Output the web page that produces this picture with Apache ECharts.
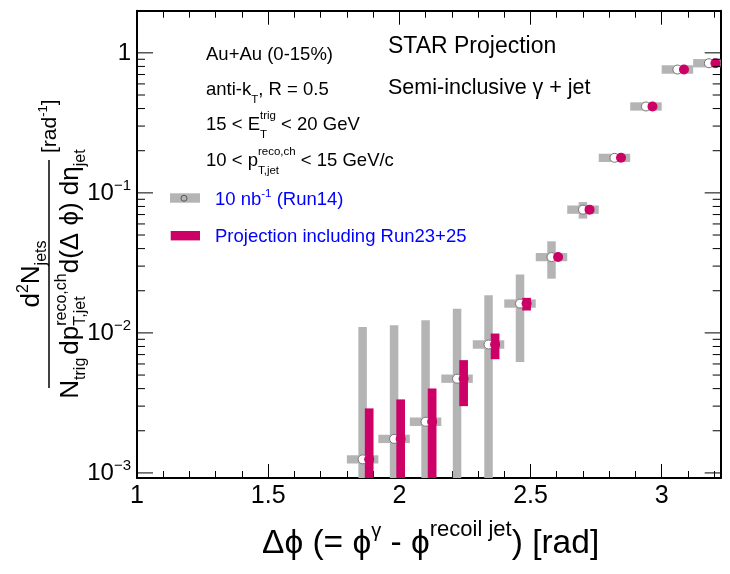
<!DOCTYPE html>
<html><head><meta charset="utf-8">
<script src="https://cdn.jsdelivr.net/npm/echarts@6/dist/echarts.min.js"></script>
<style>html,body{margin:0;padding:0;background:#fff}#c{width:730px;height:574px}</style>
</head><body><div id="c"></div>
<script>
// ---------------- data ----------------
const binCenters   = [1.86, 1.98, 2.10, 2.22, 2.34, 2.46, 2.58, 2.70, 2.82, 2.94, 3.06, 3.18];
const binHalfWidth = [0.06, 0.06, 0.06, 0.06, 0.06, 0.06, 0.06, 0.06, 0.06, 0.06, 0.06, 0.06];
const run14Values   = [0.00125, 0.00175, 0.00232, 0.00471, 0.00826, 0.0162, 0.0348, 0.0759, 0.178, 0.414, 0.760, 0.843];
const run14StatLow  = [0.0001, 0.0001, 0.0001, 0.0001, 0.0001, 0.00621, 0.0244, 0.0655, 0.171, 0.400, 0.735, 0.815];
const run14StatHigh = [0.0110, 0.01135, 0.0123, 0.0149, 0.0186, 0.0261, 0.0451, 0.0860, 0.186, 0.430, 0.790, 0.875];
const run14SysLow   = [0.001167, 0.001634, 0.002166, 0.004398, 0.007712, 0.01513, 0.03249, 0.07087, 0.1662, 0.3866, 0.7096, 0.7871];
const run14SysHigh  = [0.001339, 0.001874, 0.002485, 0.005044, 0.008846, 0.01735, 0.03727, 0.08129, 0.1906, 0.4434, 0.8140, 0.9029];
const projX         = [1.885, 2.005, 2.125, 2.245, 2.365, 2.485, 2.605, 2.725, 2.845, 2.965, 3.085, 3.205];
const projValues    = [0.00125, 0.00175, 0.00232, 0.00471, 0.00826, 0.0162, 0.0348, 0.0759, 0.178, 0.414, 0.760, 0.843];
const projStatLow   = [0.0001, 0.0001, 0.0001, 0.00300, 0.00649, 0.01445, 0.0336, 0.0740, 0.174, 0.405, 0.750, 0.830];
const projStatHigh  = [0.00289, 0.00335, 0.00401, 0.00639, 0.0099, 0.0178, 0.0360, 0.0780, 0.182, 0.420, 0.770, 0.855];
const xTickLabels   = [1, 1.5, 2, 2.5, 3];
const yMajorTicks   = [0.001, 0.01, 0.1, 1];
const yMajorExp     = [-3, -2, -1, 0];
const yMinorTicks   = [0.002,0.003,0.004,0.005,0.006,0.007,0.008,0.009,
                       0.02,0.03,0.04,0.05,0.06,0.07,0.08,0.09,
                       0.2,0.3,0.4,0.5,0.6,0.7,0.8,0.9];
const X_MIN = 1, X_MAX = 3.225, Y_MIN = 0.00092, Y_MAX = 2;

// ---------------- helpers ----------------
const FONT = '"Liberation Sans", Arial, Helvetica, sans-serif';
const mctx = document.createElement('canvas').getContext('2d');
function tw(t, s) { mctx.font = s + 'px ' + FONT; return mctx.measureText(t).width; }
function mkText(t, s, x, base, color) {
  return {type:'text', x:x, y: base - 0.347*s, silent:true,
    style:{text:t, font: s + 'px ' + FONT, fill: color, align:'left', verticalAlign:'middle'}};
}
function richLine(tokens, x0, base, color, align) {
  let w = 0; const parts = [];
  tokens.forEach(k => {
    const kw = k.stack ? Math.max(tw(k.sup, k.s), tw(k.sub, k.s)) : tw(k.t, k.s);
    parts.push({k:k, x:w}); w += kw + (k.gap || 0);
  });
  const start = align === 'center' ? x0 - w/2 : (align === 'right' ? x0 - w : x0);
  const els = [];
  parts.forEach(p => {
    const k = p.k;
    if (k.stack) {
      els.push(mkText(k.sup, k.s, start + p.x, base + k.supDy, color));
      els.push(mkText(k.sub, k.s, start + p.x, base + k.subDy, color));
    } else els.push(mkText(k.t, k.s, start + p.x, base + (k.dy || 0), color));
  });
  return els;
}

const GRAY = '#b4b4b4', PINK = '#cc0066', BLUE = '#0000ff';
const PHI = '\u03d5', DELTA = '\u0394';

function vbar(width, color) {
  return function (params, api) {
    const x = api.value(0);
    const lo = Math.max(api.value(1), Y_MIN), hi = Math.min(api.value(2), Y_MAX);
    const a = api.coord([x, hi]), b = api.coord([x, lo]);
    return {type:'rect', shape:{x:a[0] - width/2, y:a[1], width:width, height:b[1] - a[1]}, style:{fill:color}};
  };
}
function sysBox(params, api) {
  const x = api.value(0), hw = api.value(3);
  const a = api.coord([Math.max(x - hw, X_MIN), Math.min(api.value(2), Y_MAX)]);
  const b = api.coord([Math.min(x + hw, X_MAX), Math.max(api.value(1), Y_MIN)]);
  return {type:'rect', shape:{x:a[0], y:a[1], width:b[0] - a[0], height:b[1] - a[1]}, style:{fill:GRAY}};
}
function yTicks(len, withLabel) {
  return function (params, api) {
    const v = api.value(0);
    const L = api.coord([X_MIN, v]), R = api.coord([X_MAX, v]);
    const ch = [
      {type:'line', shape:{x1:L[0], y1:L[1], x2:L[0] + len, y2:L[1]}, style:{stroke:'#000', lineWidth:1}},
      {type:'line', shape:{x1:R[0], y1:R[1], x2:R[0] - len, y2:R[1]}, style:{stroke:'#000', lineWidth:1}}
    ];
    if (withLabel) {
      const e = api.value(1);
      const tokens = e === 0 ? [{t:'1', s:24}] : [{t:'10', s:24}, {t:'\u2212' + Math.abs(e), s:15, dy:-11}];
      richLine(tokens, L[0] - 6, L[1] + 9, '#000', 'right').forEach(t => ch.push(t));
    }
    return {type:'group', children:ch};
  };
}

// ---------------- series data ----------------
const run14Bars = binCenters.map((x, i) => [x, run14StatLow[i], run14StatHigh[i]]);
const run14Boxes = binCenters.map((x, i) => [x, run14SysLow[i], run14SysHigh[i], binHalfWidth[i]]);
const run14Pts = binCenters.map((x, i) => [x, run14Values[i]]);
const projBars = projX.map((x, i) => [x, projStatLow[i], projStatHigh[i]]);
const projPts = projX.map((x, i) => [x, projValues[i]]);

// ---------------- text graphics ----------------
const S = 18.5, SS = 11.5;
let g = [];
g = g.concat(richLine([{t:'Au+Au (0-15%)', s:S}], 206, 61.7, '#000', 'left'));
g = g.concat(richLine([{t:'anti-k', s:S}, {t:'T', s:SS, dy:7.5}, {t:', R = 0.5', s:S}], 206, 96.7, '#000', 'left'));
g = g.concat(richLine([{t:'15 < E', s:S}, {stack:true, sup:'trig', sub:'T', s:SS, supDy:-11.5, subDy:7.5}, {t:' < 20 GeV', s:S}], 206, 131.7, '#000', 'left'));
g = g.concat(richLine([{t:'10 < p', s:S}, {stack:true, sup:'reco,ch', sub:'T,jet', s:SS, supDy:-11.5, subDy:7.5}, {t:' < 15 GeV/c', s:S}], 206, 167.3, '#000', 'left'));
g = g.concat(richLine([{t:'STAR Projection', s:23}], 388, 55, '#000', 'left'));
g = g.concat(richLine([{t:'Semi-inclusive \u03b3 + jet', s:21.5}], 388, 96, '#000', 'left'));
// legend
g.push({type:'rect', shape:{x:170, y:193.3, width:30, height:9.4}, style:{fill:GRAY}, silent:true});
g.push({type:'circle', shape:{cx:184, cy:198.3, r:3}, style:{fill:GRAY, stroke:'#555', lineWidth:1}, silent:true});
g.push({type:'rect', shape:{x:170.7, y:231, width:29.3, height:9.4}, style:{fill:PINK}, silent:true});
g = g.concat(richLine([{t:'10 nb', s:S}, {t:'-1', s:SS, dy:-8.5}, {t:' (Run14)', s:S}], 215, 206.7, BLUE, 'left'));
g = g.concat(richLine([{t:'Projection including Run23+25', s:S}], 215, 243, BLUE, 'left'));
// x axis title
g = g.concat(richLine([{t:DELTA + PHI + ' (= ' + PHI, s:33.5}, {t:'\u03b3', s:20, dy:-17}, {t:' - ' + PHI, s:33.5},
  {t:'recoil jet', s:22, dy:-17}, {t:') [rad]', s:33.5}], 262, 555, '#000', 'left'));
// y axis title (rotated group)
const yt = [];
richLine([{t:'d', s:26}, {t:'2', s:16, dy:-12}, {t:'N', s:26}, {t:'jets', s:16, dy:6}], 0, -8, '#000', 'center').forEach(e => yt.push(e));
richLine([{t:'N', s:26}, {t:'trig', s:16, dy:6, gap:3}, {t:'dp', s:26}, {stack:true, sup:'reco,ch', sub:'T,jet', s:16, supDy:-13, subDy:6},
  {t:'d(' + DELTA + ' ' + PHI + ') d\u03b7', s:26}, {t:'jet', s:16, dy:6}], 0, 31, '#000', 'center').forEach(e => yt.push(e));
yt.push({type:'line', shape:{x1:-114, y1:0, x2:114, y2:0}, style:{stroke:'#000', lineWidth:1.5}, silent:true});
richLine([{t:'[rad', s:21}, {t:'-1', s:13, dy:-9.5}, {t:']', s:21}], 121, 8, '#000', 'left').forEach(e => yt.push(e));
g.push({type:'group', x:49, y:274, rotation:Math.PI/2, children:yt});

// ---------------- chart ----------------
const chart = echarts.init(document.getElementById('c'), null, {renderer:'canvas'});
const xAxisCommon = {
  type:'value', min:X_MIN, max:X_MAX, interval:0.5,
  axisLine:{show:true, onZero:false, lineStyle:{color:'#000', width:2}},
  axisTick:{show:true, inside:true, length:14, lineStyle:{color:'#000', width:1}},
  minorTick:{show:true, splitNumber:5, length:7, lineStyle:{color:'#000', width:1}},
  splitLine:{show:false}, minorSplitLine:{show:false}
};
const yAxisCommon = {
  type:'log', logBase:10, min:Y_MIN, max:Y_MAX,
  axisLine:{show:true, onZero:false, lineStyle:{color:'#000', width:2}},
  axisTick:{show:false}, minorTick:{show:false}, axisLabel:{show:false},
  splitLine:{show:false}, minorSplitLine:{show:false}
};
chart.setOption({
  animation:false,
  backgroundColor:'#fff',
  grid:{left:137, right:9.3, top:10.7, bottom:96},
  xAxis:[
    Object.assign({}, xAxisCommon, {position:'bottom',
      axisLabel:{show:true, fontSize:25, fontFamily:FONT, color:'#000', margin:6, showMaxLabel:false,
        formatter: v => (xTickLabels.some(t => Math.abs(t - v) < 1e-9) ? String(v) : '')}}),
    Object.assign({}, xAxisCommon, {position:'top', axisLabel:{show:false}})
  ],
  yAxis:[
    Object.assign({}, yAxisCommon, {position:'left'}),
    Object.assign({}, yAxisCommon, {position:'right'})
  ],
  series:[
    {type:'custom', renderItem:sysBox, data:run14Boxes, encode:{x:0, y:[1,2]}, silent:true},
    {type:'custom', renderItem:vbar(8.5, GRAY), data:run14Bars, encode:{x:0, y:[1,2]}, silent:true},
    {type:'custom', renderItem:vbar(8.7, PINK), data:projBars, encode:{x:0, y:[1,2]}, silent:true},
    {type:'scatter', data:run14Pts, symbol:'circle', symbolSize:9, itemStyle:{color:'#fff', borderColor:'#777', borderWidth:1, opacity:1}, silent:true},
    {type:'scatter', data:projPts, symbol:'circle', symbolSize:10, itemStyle:{color:PINK, opacity:1}, silent:true},
    {type:'custom', renderItem:yTicks(16, true), data:yMajorTicks.map((v, i) => [v, yMajorExp[i]]), encode:{y:0}, silent:true, z:10},
    {type:'custom', renderItem:yTicks(8, false), data:yMinorTicks.map(v => [v]), encode:{y:0}, silent:true, z:10}
  ],
  graphic:{elements:g}
});
</script></body></html>
